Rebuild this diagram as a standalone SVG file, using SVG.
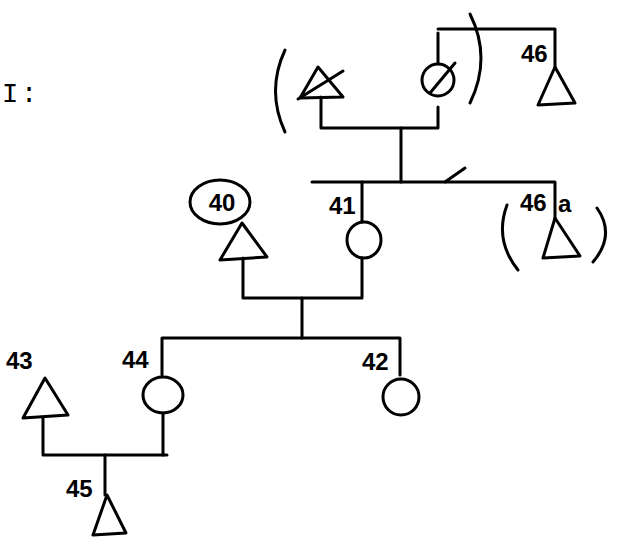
<svg xmlns="http://www.w3.org/2000/svg" width="617" height="545" viewBox="0 0 617 545">
<style>
.s{fill:none;stroke:#000;stroke-width:3;stroke-linecap:round;stroke-linejoin:round}
.t{font-family:"Liberation Sans","DejaVu Sans",sans-serif;font-size:24px;font-weight:bold;fill:#000;stroke:none}
.g{font-family:"Liberation Mono","DejaVu Sans Mono",monospace;font-size:27px;fill:#000}
</style>
<rect width="617" height="545" fill="#fff"/>
<text class="g" x="2 21" y="102">I:</text>
<g id="connectors" class="s">
<path d="M321,97 V128 H438 V107"/>
<path d="M438,33 V63"/>
<path d="M438,29 H555 V67"/>
<path d="M401,128 V182"/>
<path d="M312,182 H555 V218"/>
<path d="M445,182 L465,168"/>
<path d="M362,182 V222"/>
<path d="M243,258 V298 H362 V258"/>
<path d="M302,298 V338"/>
<path d="M162,375 V338 H400 V375"/>
<path d="M43,418 V455 H167"/>
<path d="M163,413 V455"/>
<path d="M105,455 V495"/>
</g>
<g id="deceased-male" class="s">
<path d="M285,50 Q266,91 285,132"/>
<path d="M318,67 L300,98 L343,97 Z"/>
<path d="M298,99 L343,71"/>
</g>
<g id="deceased-female" class="s">
<circle cx="438" cy="80" r="16"/>
<path d="M430,93 L455,63"/>
<path d="M470,14 Q492,58 470,103"/>
</g>
<g id="n46" class="s">
<path d="M555,67 L538,105 L575,103 Z"/>
<text class="t" x="521" y="62">46</text>
</g>
<g id="n40" class="s">
<ellipse cx="220" cy="202" rx="30" ry="22"/>
<text class="t" x="222" y="211" text-anchor="middle">40</text>
<path d="M242,223 L220,260 L267,257 Z"/>
</g>
<g id="n41" class="s">
<ellipse cx="364" cy="240" rx="17" ry="18"/>
<text class="t" x="329" y="214">41</text>
</g>
<g id="n46a" class="s">
<path d="M555,218 L543,258 L580,256 Z"/>
<path d="M507,205 Q494,240 518,270"/>
<path d="M597,208 Q616,235 593,262"/>
<text class="t" x="520" y="211">46</text>
<text class="t" x="558" y="212">a</text>
</g>
<g id="n42" class="s">
<circle cx="401" cy="397" r="18"/>
<text class="t" x="362" y="370">42</text>
</g>
<g id="n44" class="s">
<ellipse cx="163" cy="395" rx="20" ry="18"/>
<text class="t" x="122" y="368">44</text>
</g>
<g id="n43" class="s">
<path d="M45,378 L23,418 L68,415 Z"/>
<text class="t" x="6" y="369">43</text>
</g>
<g id="n45" class="s">
<path d="M107,495 L93,535 L126,533 Z"/>
<text class="t" x="66" y="497">45</text>
</g>
</svg>
